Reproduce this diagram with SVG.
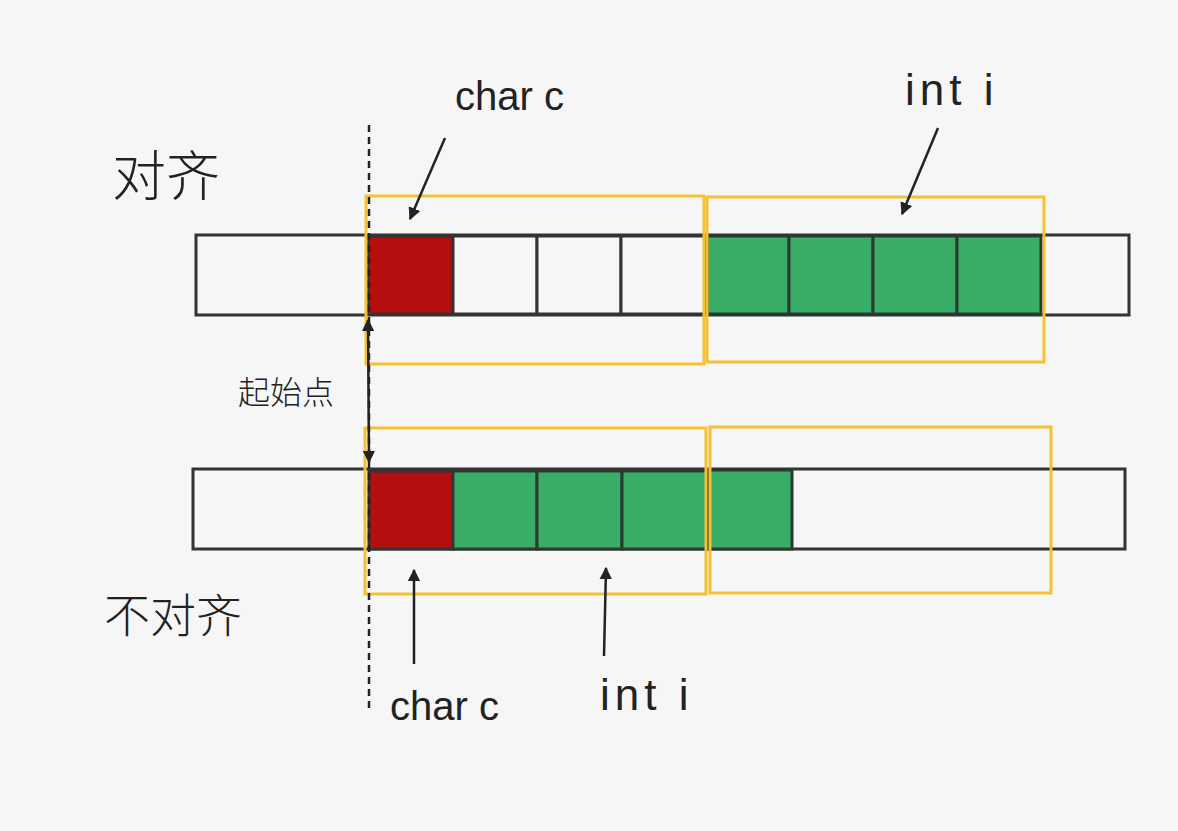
<svg xmlns="http://www.w3.org/2000/svg" width="1178" height="831" viewBox="0 0 1178 831">
<defs>
<style>
.bar{fill:#f6f6f6;stroke:#333;stroke-width:3}
.red{fill:#b50e0e;stroke:#333;stroke-width:3}
.grn{fill:#3aae68;stroke:#2a3a30;stroke-width:3}
.cell{fill:#f6f6f6;stroke:#333;stroke-width:3}
.yel{fill:none;stroke:#f2c232;stroke-width:3}
.arr{stroke:#222;stroke-width:2.5;fill:none}
.lbl{font-family:"Liberation Sans","Noto Sans CJK SC",sans-serif;fill:#222;font-weight:normal}
.cjk{font-family:"Noto Sans CJK SC",sans-serif;fill:#222;font-weight:300}
</style>
<marker id="ah" viewBox="0 0 10 10" refX="9" refY="5" markerWidth="5" markerHeight="5" orient="auto-start-reverse">
<path d="M0,0 L10,5 L0,10 z" fill="#222"/>
</marker>
</defs>
<rect width="1178" height="831" fill="#f6f6f6"/>

<g id="row-aligned">
<rect class="bar" x="196" y="235" width="933" height="80"/>
<rect class="red" x="368" y="236" width="85" height="78"/>
<rect class="cell" x="453" y="236" width="84" height="78"/>
<rect class="cell" x="537" y="236" width="84" height="78"/>
<rect class="cell" x="621" y="236" width="84" height="78"/>
<rect class="grn" x="707" y="236" width="82" height="78"/>
<rect class="grn" x="789" y="236" width="84" height="78"/>
<rect class="grn" x="873" y="236" width="84" height="78"/>
<rect class="grn" x="957" y="236" width="84" height="78"/>
<rect class="yel" x="366" y="196" width="338" height="168"/>
<rect class="yel" x="707" y="197" width="337" height="165"/>
</g>

<g id="row-packed">
<rect class="bar" x="193" y="469" width="932" height="80"/>
<rect class="red" x="369" y="471" width="84" height="78"/>
<rect class="grn" x="453" y="471" width="84" height="78"/>
<rect class="grn" x="537" y="471" width="85" height="78"/>
<rect class="grn" x="622" y="471" width="86" height="78"/>
<rect class="grn" x="708" y="470" width="84" height="79"/>
<rect class="yel" x="365" y="428" width="341" height="166"/>
<rect class="yel" x="710" y="427" width="341" height="166"/>
</g>

<g id="labels">
<text class="cjk" x="112" y="196" font-size="54">对齐</text>
<text class="cjk" x="104" y="632" font-size="46">不对齐</text>
<text class="cjk" x="238" y="404" font-size="32">起始点</text>
<text class="lbl" x="455" y="110" font-size="40">char c</text>
<text class="lbl" x="905" y="105" font-size="44" letter-spacing="5">int i</text>
<text class="lbl" x="390" y="720" font-size="40">char c</text>
<text class="lbl" x="600" y="710" font-size="44" letter-spacing="5">int i</text>
</g>

<g id="connectors">
<line x1="369" y1="125" x2="369" y2="712" stroke="#222" stroke-width="2.5" stroke-dasharray="7,5"/>
<line class="arr" x1="368" y1="320" x2="369" y2="462" marker-start="url(#ah)" marker-end="url(#ah)"/>
<line class="arr" x1="445" y1="138" x2="410" y2="219" marker-end="url(#ah)"/>
<line class="arr" x1="938" y1="128" x2="902" y2="214" marker-end="url(#ah)"/>
<line class="arr" x1="414" y1="664" x2="414" y2="570" marker-end="url(#ah)"/>
<line class="arr" x1="604" y1="656" x2="606" y2="568" marker-end="url(#ah)"/>
</g>
</svg>
